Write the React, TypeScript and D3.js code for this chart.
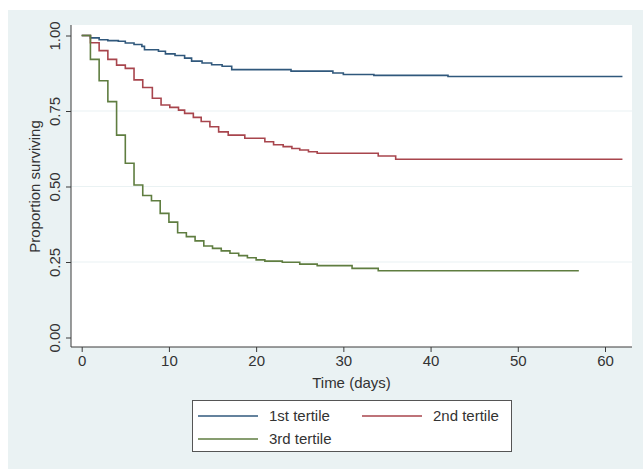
import React, { useEffect, useRef } from "react";
import * as d3 from "d3";

// Kaplan-Meier step values
const tertile1Times = [0, 1, 2, 3, 4.2, 5, 6, 6.9, 7.2, 8.8, 9.6, 10.7, 11.8, 12.6, 13.8, 14.9, 16.1, 17.2, 24, 28.8, 30, 33.5, 42, 62];
const tertile1Surv = [1, 0.992, 0.986, 0.983, 0.981, 0.975, 0.97, 0.964, 0.953, 0.948, 0.939, 0.934, 0.925, 0.915, 0.909, 0.903, 0.898, 0.887, 0.882, 0.876, 0.871, 0.868, 0.864, 0.864];

const tertile2Times = [0, 1, 2, 3, 4, 5, 6, 7, 8.1, 9.1, 10.1, 11.1, 11.8, 12.8, 13.7, 14.7, 15.7, 16.8, 18.7, 21, 22, 23.1, 24.1, 25, 26, 27, 34, 36, 62];
const tertile2Surv = [1, 0.976, 0.95, 0.921, 0.902, 0.891, 0.853, 0.828, 0.792, 0.77, 0.762, 0.753, 0.742, 0.729, 0.715, 0.698, 0.681, 0.67, 0.66, 0.648, 0.638, 0.632, 0.626, 0.621, 0.615, 0.61, 0.601, 0.59, 0.59];

const tertile3Times = [0, 1, 2, 3, 4, 5, 6, 7, 8, 9, 10, 11, 12, 13, 14, 15, 16, 17, 18, 19, 20, 21, 23, 25, 27, 31, 34, 57];
const tertile3Surv = [1, 0.921, 0.85, 0.781, 0.67, 0.577, 0.505, 0.47, 0.453, 0.411, 0.382, 0.347, 0.334, 0.32, 0.303, 0.295, 0.287, 0.279, 0.271, 0.264, 0.257, 0.253, 0.249, 0.243, 0.238, 0.229, 0.221, 0.221];

const seriesNames = ["1st tertile", "2nd tertile", "3rd tertile"];
const xTicks = [0, 10, 20, 30, 40, 50, 60];
const yTicks = [0, 0.25, 0.5, 0.75, 1];
const gridTicks = [0.25, 0.5, 0.75];

const colors = ["#30587c", "#a8454d", "#5f7d40"];
const font = "Liberation Sans, Arial, sans-serif";

const App = () => {
  const chartRef = useRef<SVGSVGElement | null>(null);

  useEffect(() => {
    const width = 643;
    const height = 469;
    const svg = d3.select(chartRef.current);
    svg.selectAll("*").remove();

    // backgrounds
    svg.append("rect").attr("width", width).attr("height", height).attr("fill", "#ffffff");
    svg.append("rect").attr("x", 8).attr("y", 10).attr("width", width - 8).attr("height", height - 10).attr("fill", "#eaf2f3");

    // plot region
    const left = 71, right = 632, top = 25, bottom = 347;
    svg.append("rect").attr("x", left).attr("y", top).attr("width", right - left).attr("height", bottom - top).attr("fill", "#ffffff");

    const x = d3.scaleLinear().domain([0, 60]).range([81.7, 605]);
    const y = d3.scaleLinear().domain([0, 1]).range([337.5, 35.5]);

    // gridlines
    svg.append("g")
      .selectAll("line")
      .data(gridTicks)
      .join("line")
      .attr("x1", left).attr("x2", right)
      .attr("y1", (d) => y(d)).attr("y2", (d) => y(d))
      .attr("stroke", "#eaf2f3").attr("stroke-width", 1.2);

    // survival curves
    const series = [
      tertile1Times.map((t, i) => [t, tertile1Surv[i]]),
      tertile2Times.map((t, i) => [t, tertile2Surv[i]]),
      tertile3Times.map((t, i) => [t, tertile3Surv[i]]),
    ];
    const line = d3.line<number[]>()
      .x((d) => x(d[0]))
      .y((d) => y(d[1]))
      .curve(d3.curveStepAfter);

    svg.append("g")
      .selectAll("path")
      .data(series)
      .join("path")
      .attr("d", (d) => line(d))
      .attr("fill", "none")
      .attr("stroke", (d, i) => colors[i])
      .attr("stroke-width", 1.6);

    // y axis
    const yAxis = svg.append("g").attr("transform", `translate(${left},0)`)
      .call(d3.axisLeft(y).tickValues(yTicks).tickSize(5).tickFormat(d3.format(".2f")));
    yAxis.select(".domain").attr("d", `M0,${top}V${bottom}`).attr("stroke", "#3a3a3a");
    yAxis.selectAll(".tick line").attr("stroke", "#3a3a3a");
    yAxis.selectAll(".tick text")
      .attr("transform", "rotate(-90)")
      .attr("x", 0).attr("y", -11).attr("dy", 0)
      .attr("text-anchor", "middle")
      .attr("font-family", font).attr("font-size", 15).attr("fill", "#333");

    // x axis
    const xAxis = svg.append("g").attr("transform", `translate(0,${bottom})`)
      .call(d3.axisBottom(x).tickValues(xTicks).tickSize(5));
    xAxis.select(".domain").attr("d", `M${left},0H${right}`).attr("stroke", "#3a3a3a");
    xAxis.selectAll(".tick line").attr("stroke", "#3a3a3a");
    xAxis.selectAll(".tick text")
      .attr("y", 8).attr("dy", "0.71em")
      .attr("font-family", font).attr("font-size", 15).attr("fill", "#333");

    // axis titles
    svg.append("text")
      .attr("x", (left + right) / 2).attr("y", 388)
      .attr("text-anchor", "middle")
      .attr("font-family", font).attr("font-size", 15).attr("fill", "#333")
      .text("Time (days)");
    svg.append("text")
      .attr("transform", `translate(40,${(y(0) + y(1)) / 2}) rotate(-90)`)
      .attr("text-anchor", "middle")
      .attr("font-family", font).attr("font-size", 15).attr("fill", "#333")
      .text("Proportion surviving");

    // legend
    const legend = svg.append("g");
    legend.append("rect")
      .attr("x", 192.5).attr("y", 400.5).attr("width", 319).attr("height", 51)
      .attr("fill", "#ffffff").attr("stroke", "#555").attr("stroke-width", 1);
    const legendPos = [[198, 416], [362, 416], [198, 439]];
    legend.selectAll("line")
      .data(seriesNames)
      .join("line")
      .attr("x1", (d, i) => legendPos[i][0]).attr("x2", (d, i) => legendPos[i][0] + 60)
      .attr("y1", (d, i) => legendPos[i][1]).attr("y2", (d, i) => legendPos[i][1])
      .attr("stroke", (d, i) => colors[i]).attr("stroke-width", 1.6);
    legend.selectAll("text")
      .data(seriesNames)
      .join("text")
      .attr("x", (d, i) => legendPos[i][0] + 71)
      .attr("y", (d, i) => legendPos[i][1] + 5)
      .attr("font-family", font).attr("font-size", 15).attr("fill", "#333")
      .text((d) => d);
  }, []);

  return (
    <svg
      ref={chartRef}
      width={643}
      height={469}
      style={{ position: "absolute", left: 0, top: 0 }}
    />
  );
};

export default App;
